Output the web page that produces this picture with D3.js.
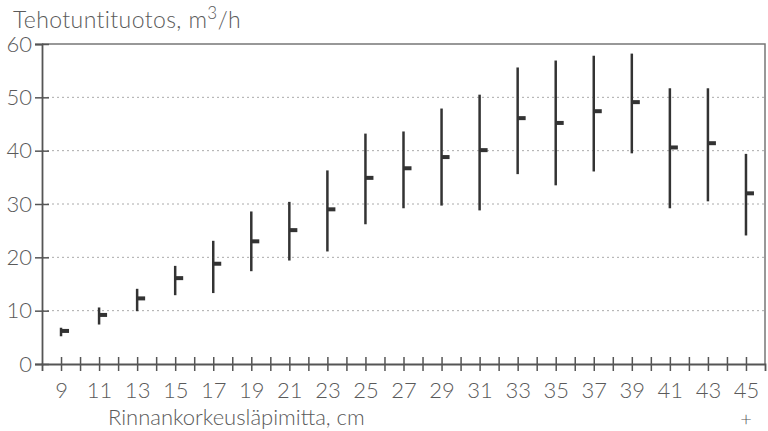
<!DOCTYPE html>
<html>
<head>
<meta charset="utf-8">
<script src="https://cdn.jsdelivr.net/npm/d3@7"></script>
<style>
  body { margin: 0; background: #fff; }
  text { font-family: Lato, "Open Sans", sans-serif; font-weight: 300; fill: #5a5a5a; }
</style>
</head>
<body>
<div class="canvas"></div>
<script>
// diameter classes (cm), 45 = 45+
const classes = [9, 11, 13, 15, 17, 19, 21, 23, 25, 27, 29, 31, 33, 35, 37, 39, 41, 43, 45]
const lows  = [5.2, 7.4, 9.9, 12.9, 13.3, 17.4, 19.4, 21.1, 26.2, 29.2, 29.7, 28.8, 35.6, 33.5, 36.1, 39.5, 29.2, 30.5, 24.1]
const highs = [6.8, 10.6, 14.1, 18.4, 23.1, 28.6, 30.4, 36.3, 43.2, 43.6, 47.9, 50.5, 55.6, 56.9, 57.8, 58.2, 51.7, 51.7, 39.4]
const means = [6.2, 9.2, 12.3, 16.1, 18.8, 23.0, 25.1, 29.0, 34.9, 36.7, 38.8, 40.1, 46.1, 45.2, 47.4, 49.1, 40.6, 41.4, 32.0]
const yTicks = [0, 10, 20, 30, 40, 50, 60]

const svgWidth = 768, svgHeight = 431
const margin = { top: 44, right: 3, bottom: 67, left: 42 }
const graphWidth = svgWidth - margin.left - margin.right, graphHeight = svgHeight - margin.top - margin.bottom

const svg = d3.select('.canvas')
  .append('svg')
  .attr('width', svgWidth)
  .attr('height', svgHeight)

const graph = svg.append('g')
  .attr('transform', `translate(${margin.left}, ${margin.top})`)

// scales
const x = d3.scaleLinear().domain([8, 46]).range([0, graphWidth])
const y = d3.scaleLinear().domain([0, 60]).range([graphHeight, 0])

// dotted grid lines
graph.selectAll('.grid')
  .data(yTicks.filter(d => d > 0 && d < 60))
  .enter().append('line')
  .attr('x1', 0).attr('x2', graphWidth)
  .attr('y1', d => y(d)).attr('y2', d => y(d))
  .attr('stroke', '#aaa')
  .attr('stroke-width', 1)
  .attr('stroke-dasharray', '2,3')

// frame top and right
graph.append('path')
  .attr('d', `M0,${y(60)}H${graphWidth}V${graphHeight}`)
  .attr('fill', 'none')
  .attr('stroke', '#777')
  .attr('stroke-width', 1.5)

// axes
const allTicks = d3.range(9, 46)
const xAxis = d3.axisBottom(x)
  .tickValues(allTicks)
  .tickSize(7)
  .tickFormat(d => classes.includes(d) ? d : '')

const yAxis = d3.axisLeft(y)
  .tickValues(yTicks)
  .tickSize(7)

const xAxisGroup = graph.append('g')
  .attr('transform', `translate(0, ${graphHeight})`)
  .call(xAxis)

const yAxisGroup = graph.append('g')
  .call(yAxis)

// ticks cross the axis line on both sides
xAxisGroup.selectAll('.tick line').attr('y1', -7)
yAxisGroup.selectAll('.tick line').attr('x1', 7)

graph.selectAll('.domain')
  .attr('stroke', '#555')
  .attr('stroke-width', 1.8)
graph.selectAll('.tick line')
  .attr('stroke', '#555')
  .attr('stroke-width', 1.5)

xAxisGroup.selectAll('text')
  .attr('y', 18)
  .style('font-size', '22px')
  .style('font-family', 'Lato, sans-serif')
yAxisGroup.selectAll('text')
  .attr('x', -10)
  .style('font-size', '22px')
  .style('font-family', 'Lato, sans-serif')

// range lines
const data = classes.map((c, i) => ({ c, low: lows[i], high: highs[i], mean: means[i] }))

graph.selectAll('.range')
  .data(data)
  .enter().append('line')
  .attr('x1', d => x(d.c)).attr('x2', d => x(d.c))
  .attr('y1', d => y(d.low)).attr('y2', d => y(d.high))
  .attr('stroke', '#333')
  .attr('stroke-width', 2.5)

// mean markers
graph.selectAll('.mean')
  .data(data)
  .enter().append('rect')
  .attr('x', d => x(d.c))
  .attr('y', d => y(d.mean) - 2)
  .attr('width', 8)
  .attr('height', 4)
  .attr('fill', '#333')

// titles
const title = svg.append('text')
  .attr('x', 13)
  .attr('y', 28)
  .style('font-size', '23px')
  .style('letter-spacing', '0.4px')
title.append('tspan').text('Tehotuntituotos, m')
title.append('tspan').attr('dy', -9).style('font-size', '17px').text('3')
title.append('tspan').attr('dy', 9).text('/h')

svg.append('text')
  .attr('x', 108)
  .attr('y', 425)
  .style('font-size', '22px')
  .text('Rinnankorkeusläpimitta, cm')

svg.append('text')
  .attr('x', margin.left + x(45))
  .attr('y', 418)
  .attr('text-anchor', 'middle')
  .attr('dominant-baseline', 'central')
  .style('font-size', '20px')
  .text('+')
</script>
</body>
</html>
